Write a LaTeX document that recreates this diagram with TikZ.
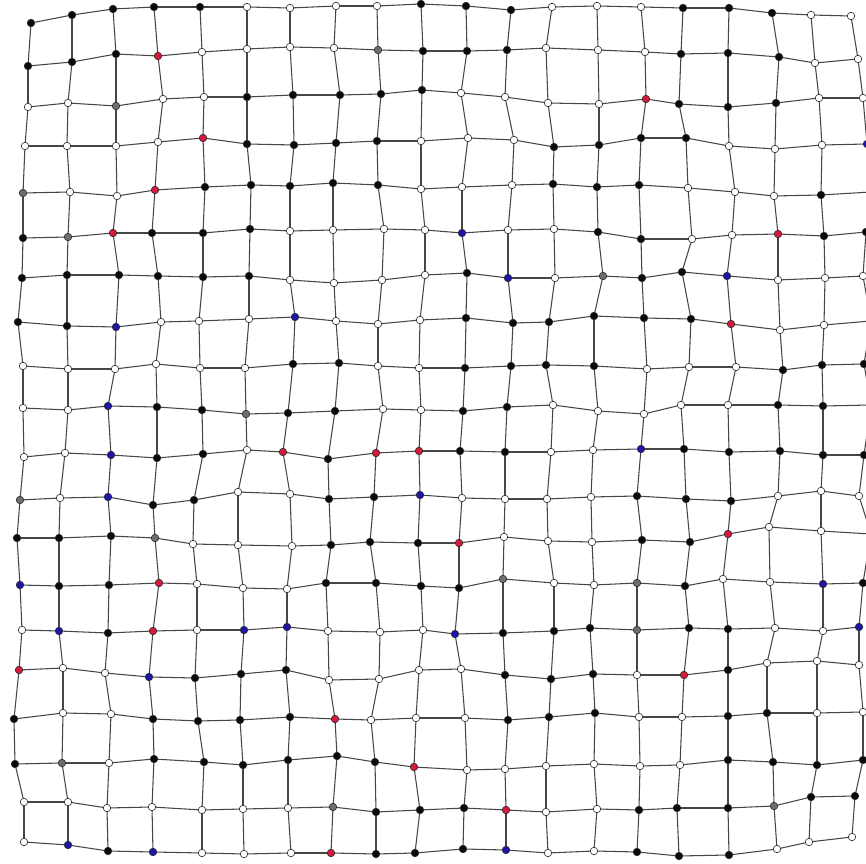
\documentclass[tikz,border=0pt]{standalone}
\definecolor{cB}{RGB}{10,10,10}
\definecolor{cW}{RGB}{255,255,255}
\definecolor{cR}{RGB}{215,25,60}
\definecolor{cL}{RGB}{30,20,170}
\definecolor{cG}{RGB}{110,110,110}
\definecolor{edgec}{RGB}{70,70,70}
\tikzset{
  dot/.style={circle,inner sep=0pt,minimum size=4.3pt,draw=black!85,line width=0.35pt},
  edge/.style={draw=edgec,line width=0.6pt}
}
\newcommand\gridrow[2]{%
  \foreach \x/\y/\c [count=\i from 0] in {#2}{\node[dot,fill=c\c] (n-#1-\i) at (\x,\y) {};}}
\begin{document}
\begin{tikzpicture}[x=0.02cm,y=-0.02cm]
\useasboundingbox (0,0) rectangle (866,864);
\fill[white] (0,0) rectangle (866,864);
\gridrow{0}{31/23/B,72/15/B,113/9/B,154/7/B,200/7/B,247/7/W,290/8/W,336/6/W,377/6/W,421/4/B,466/6/B,511/10/B,552/7/W,597/6/W,641/7/W,683/8/B,729/8/B,772/13/B,811/15/W,851/16/W}
\gridrow{1}{28/66/B,72/62/B,116/54/B,158/56/R,202/52/W,247/49/W,290/47/W,334/48/W,378/50/G,423/51/B,467/51/B,507/50/B,546/48/W,598/50/W,645/52/W,681/54/B,728/53/B,779/57/B,815/63/W,858/59/W}
\gridrow{2}{28/107/W,68/103/W,116/106/G,163/99/W,204/97/W,247/97/B,293/95/B,340/95/B,381/94/B,422/90/B,461/93/W,505/97/W,548/103/W,599/104/W,646/99/R,679/104/B,728/107/B,776/103/B,819/98/W,863/98/W}
\gridrow{3}{25/146/W,67/146/W,116/146/W,158/142/W,203/138/R,247/144/B,294/145/B,336/143/B,377/141/B,421/141/W,468/138/W,514/140/W,554/147/B,599/145/B,641/138/B,686/138/B,729/146/W,775/149/W,822/145/W,867/144/L}
\gridrow{4}{23/193/G,70/192/W,117/196/W,155/190/R,205/187/B,251/185/B,290/186/B,333/183/B,378/185/B,421/189/W,462/187/W,512/185/W,553/184/B,597/187/B,639/185/B,688/188/W,735/192/W,774/196/W,821/195/B,871/192/W}
\gridrow{5}{23/238/B,68/237/G,113/233/R,152/233/B,203/233/B,250/229/B,290/231/W,333/230/W,384/229/W,425/230/W,462/233/L,508/230/W,554/229/W,598/232/B,641/239/B,692/239/W,732/235/W,778/234/R,824/236/B,866/232/B}
\gridrow{6}{22/278/B,67/275/B,119/275/B,158/276/B,203/277/B,249/276/B,290/280/W,334/283/W,382/280/W,425/275/W,467/273/B,508/278/L,555/278/W,603/276/G,642/278/B,682/272/B,727/276/L,778/280/W,825/278/W,863/276/W}
\gridrow{7}{18/322/B,67/326/B,116/327/L,161/322/W,199/321/W,249/319/W,295/317/L,336/321/W,378/324/W,420/320/W,466/318/B,513/323/B,549/322/B,594/316/B,644/318/B,691/319/B,731/324/R,780/330/W,824/325/W,871/321/W}
\gridrow{8}{23/366/W,68/369/W,115/369/W,156/364/W,200/368/W,245/368/W,293/364/B,339/363/B,378/366/W,419/368/W,465/368/B,511/366/B,546/365/B,594/366/B,647/369/W,689/367/W,736/367/W,783/370/B,822/365/B,864/364/B}
\gridrow{9}{23/408/W,68/410/W,108/406/L,157/407/B,202/410/B,246/414/G,288/413/B,335/411/B,383/409/W,421/410/W,463/411/B,507/407/B,553/405/W,598/411/W,644/414/W,681/405/W,728/405/W,778/405/B,823/406/B,871/405/W}
\gridrow{10}{24/457/W,65/453/W,111/455/L,157/458/B,203/454/B,247/450/W,283/452/R,328/459/B,376/453/R,419/451/R,460/451/B,505/452/B,551/452/W,593/450/W,641/449/L,684/449/B,729/452/B,780/451/B,823/455/B,864/455/B}
\gridrow{11}{20/500/G,60/498/W,108/497/L,153/505/B,194/500/B,238/492/W,290/494/W,329/499/B,374/497/B,420/495/L,462/498/W,505/499/W,547/499/W,591/497/W,637/496/B,686/499/B,731/501/B,778/496/W,821/491/W,859/496/W}
\gridrow{12}{17/538/B,59/538/B,111/536/B,155/538/G,193/544/W,238/545/W,292/546/W,331/545/B,370/542/B,418/543/B,459/543/R,504/537/W,548/541/W,592/542/W,642/540/B,690/542/B,728/534/R,769/527/W,821/531/W,871/534/W}
\gridrow{13}{20/585/L,59/586/B,109/585/B,159/583/R,197/584/W,243/588/W,287/589/W,326/583/B,376/583/B,421/586/B,459/588/B,503/579/G,554/583/W,594/585/W,637/583/G,685/586/B,723/579/W,770/582/W,823/584/L,863/583/B}
\gridrow{14}{22/630/W,59/631/L,108/633/B,153/631/R,197/630/W,244/630/L,287/627/L,328/631/W,380/632/W,423/630/W,455/634/L,503/633/B,554/631/B,590/628/B,637/630/G,689/628/B,728/629/B,775/628/W,823/631/W,859/627/L}
\gridrow{15}{19/670/R,63/668/W,105/673/W,149/677/L,195/678/B,241/674/B,286/670/B,329/680/W,379/679/W,419/670/W,461/669/W,505/675/B,551/679/B,593/674/B,637/675/W,684/675/R,728/670/B,767/663/W,817/661/W,859/665/W}
\gridrow{16}{14/719/B,63/713/W,111/714/W,153/719/B,198/721/B,240/720/B,290/717/B,335/719/R,371/720/W,416/718/W,465/718/W,508/720/B,549/717/B,595/713/B,639/717/W,682/717/W,728/716/B,767/713/B,817/713/W,863/712/W}
\gridrow{17}{15/764/B,62/763/G,109/763/W,154/759/B,204/762/B,243/765/B,288/760/B,337/756/B,375/762/B,414/767/R,467/770/W,505/769/W,546/766/W,594/764/W,640/766/W,680/765/W,728/760/B,773/762/B,817/765/B,863/760/B}
\gridrow{18}{24/802/W,68/802/W,107/808/W,152/807/W,202/810/W,243/809/W,288/808/W,333/807/G,376/812/B,420/810/B,464/808/B,506/810/R,546/812/W,597/809/W,639/810/B,677/808/B,728/808/B,774/806/G,811/797/B,855/796/B}
\gridrow{19}{24/842/W,68/845/L,108/851/B,153/852/L,202/853/W,244/854/W,291/853/W,331/853/R,376/854/B,415/853/B,463/849/B,506/850/L,548/853/W,594/851/W,637/852/B,679/856/B,729/855/B,777/849/W,809/842/W,852/837/W}
\foreach \r in {0,...,19}{%
  \foreach \c [evaluate=\c as \d using int(\c+1)] in {0,...,18}{%
    \draw[edge] (n-\r-\c) -- (n-\r-\d);}}
\foreach \r [evaluate=\r as \s using int(\r+1)] in {0,...,18}{%
  \foreach \c in {0,...,19}{%
    \draw[edge] (n-\r-\c) -- (n-\s-\c);}}
\end{tikzpicture}
\end{document}
